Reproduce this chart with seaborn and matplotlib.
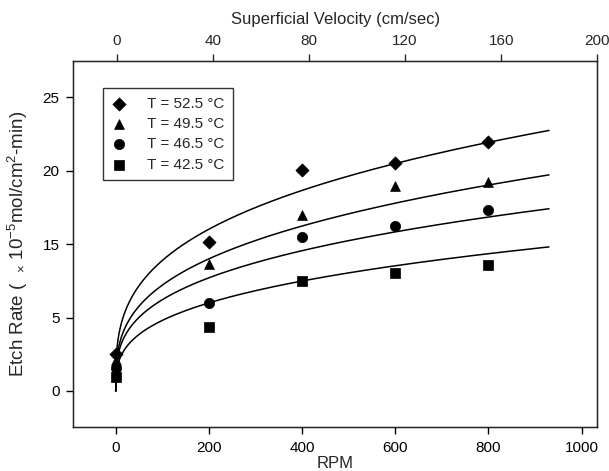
import numpy as np
import pandas as pd
import matplotlib
matplotlib.use("Agg")
import matplotlib.pyplot as plt
import seaborn as sns

# ---- data (y in axis position units; tick labels as printed) ----
rpm = [0, 200, 400, 600, 800]
etch_525 = [2.52, 10.14, 15.03, 15.51, 16.94]
etch_495 = [2.11, 8.64, 12.0, 13.95, 14.22]
etch_465 = [1.56, 5.99, 10.48, 11.22, 12.31]
etch_425 = [0.95, 4.35, 7.48, 8.03, 8.57]
series_labels = ["T = 52.5 °C", "T = 49.5 °C", "T = 46.5 °C", "T = 42.5 °C"]
# fitted power-law curves y = a * rpm^b
curve_a = [2.13, 1.65, 1.49, 1.10]
curve_b = [0.31, 0.32, 0.31, 0.32]
fit_max_rpm = 930
ytick_pos = [0, 5, 10, 15, 20]
ytick_labels = ["0", "5", "15", "20", "25"]
xticks_rpm = [0, 200, 400, 600, 800, 1000]
xticks_vel = [0, 40, 80, 120, 160, 200]

sns.set_style("ticks")
plt.rcParams["font.family"] = ["Liberation Sans", "DejaVu Sans"]
plt.rcParams["mathtext.fontset"] = "custom"
plt.rcParams["mathtext.rm"] = "Liberation Sans"
plt.rcParams["mathtext.it"] = "Liberation Sans"

fig = plt.figure(figsize=(6.09, 4.71), dpi=100)
ax = fig.add_axes([0.1204, 0.0934, 0.8606, 0.7777])

markers = ["D", "^", "o", "s"]
sizes = [45, 50, 55, 42]
all_series = [etch_525, etch_495, etch_465, etch_425]

rows = []
for lab, ys in zip(series_labels, all_series):
    for x, y in zip(rpm, ys):
        rows.append({"RPM": x, "Etch": y, "Series": lab})
df = pd.DataFrame(rows)

xs_fit = np.linspace(0, fit_max_rpm, 600)
fit_rows = []
for lab, a, b in zip(series_labels, curve_a, curve_b):
    yf = a * xs_fit ** b
    for x, y in zip(xs_fit, yf):
        fit_rows.append({"RPM": x, "Etch": y, "Series": lab})
fdf = pd.DataFrame(fit_rows)

sns.lineplot(data=fdf, x="RPM", y="Etch", units="Series", estimator=None,
             color="black", linewidth=1.1, ax=ax, legend=False)

for lab, m, s in zip(series_labels, markers, sizes):
    sub = df[df["Series"] == lab]
    sns.scatterplot(data=sub, x="RPM", y="Etch", marker=m, s=s, color="black",
                    edgecolor="black", linewidth=0.5, ax=ax, label=lab, zorder=3)

ax.set_xlim(-91, 1034)
ax.set_ylim(-2.45, 22.47)
ax.set_xticks(xticks_rpm)
ax.set_xticklabels([str(v) for v in xticks_rpm])
ax.set_yticks(ytick_pos)
ax.set_yticklabels(ytick_labels)
ax.tick_params(axis="both", direction="out", length=5, width=1, labelsize=11,
               colors="black", pad=5)
for sp in ax.spines.values():
    sp.set_visible(True)
    sp.set_color("black")
    sp.set_linewidth(1)

ax.set_xlabel("RPM", fontsize=12, labelpad=1)
ax.set_ylabel("Etch Rate (  $_{\\times}$ 10$^{-5}$mol/cm$^{2}$-min)", fontsize=13.5, labelpad=9)

ax2 = ax.twiny()
ax2.set_xlim(-18.0, 200)
ax2.set_xticks(xticks_vel)
ax2.set_xticklabels([str(v) for v in xticks_vel])
ax2.tick_params(axis="x", direction="out", length=5, width=1, labelsize=11, pad=4)
ax2.set_xlabel("Superficial Velocity (cm/sec)", fontsize=12, labelpad=7)
ax2.spines["right"].set_visible(True)

leg = ax.legend(loc="upper left", bbox_to_anchor=(0.057, 0.925), frameon=True,
                fancybox=False, edgecolor="black", fontsize=11, labelspacing=0.42,
                handletextpad=1.3, borderpad=0.55, handlelength=1.0, borderaxespad=0)
leg.get_frame().set_linewidth(1)

fig.savefig("out.png", dpi=100)
